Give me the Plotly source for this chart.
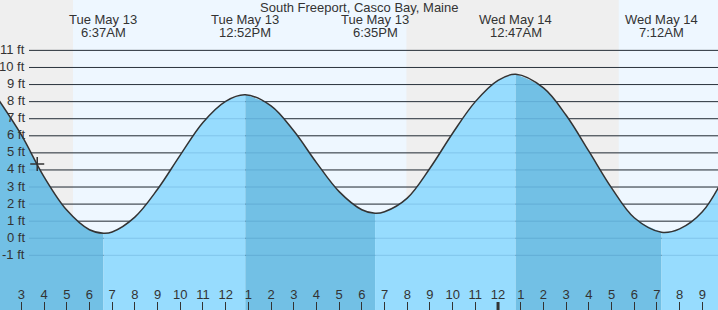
import plotly.graph_objects as go

# ---------------- data ----------------
title = "South Freeport, Casco Bay, Maine"

# hours counted from Tue May 13 00:00
hourly_hours = [2.0, 3.0, 4.0, 5.0, 6.0, 7.0, 8.0, 9.0, 10.0, 11.0, 12.0,
                14.0, 15.0, 16.0, 17.0, 18.0, 19.0, 20.0, 21.0, 22.0, 23.0, 24.0,
                26.0, 27.0, 28.0, 29.0, 30.0, 32.0, 33.0, 34.0]
hourly_heights = [8.1, 6.05, 3.6, 1.65, 0.5, 0.37, 1.24, 2.87, 4.87, 6.78, 8.02,
                  7.75, 6.29, 4.43, 2.73, 1.67, 1.55, 2.35, 4.1, 6.15, 8.0, 9.25,
                  8.8, 7.2, 5.1, 2.95, 1.2, 0.55, 1.55, 3.7]

extreme_hours = [6.617, 12.867, 18.583, 24.783, 31.2]
extreme_heights = [0.3, 8.4, 1.46, 9.6, 0.35]
extreme_dates = ["Tue May 13", "Tue May 13", "Tue May 13", "Wed May 14", "Wed May 14"]
extreme_times = ["6:37AM", "12:52PM", "6:35PM", "12:47AM", "7:12AM"]

sun_hours = [5.276, 19.976, 29.316]          # sunrise, sunset, sunrise

now_hour = [3.70]
now_height = [4.35]

hour_ticks = [2, 3, 4, 5, 6, 7, 8, 9, 10, 11, 12, 13, 14, 15, 16, 17, 18, 19,
              20, 21, 22, 23, 24, 25, 26, 27, 28, 29, 30, 31, 32, 33]
hour_labels = ["2", "3", "4", "5", "6", "7", "8", "9", "10", "11", "12", "1", "2",
               "3", "4", "5", "6", "7", "8", "9", "10", "11", "12", "1", "2", "3",
               "4", "5", "6", "7", "8", "9"]
midnight_hour = 24

foot_levels = [-1, 0, 1, 2, 3, 4, 5, 6, 7, 8, 9, 10, 11]
foot_labels = ["-1 ft", "0 ft", "1 ft", "2 ft", "3 ft", "4 ft", "5 ft", "6 ft",
               "7 ft", "8 ft", "9 ft", "10 ft", "11 ft"]

# ---------------- styling ----------------
W, H = 718, 310
X_RANGE = [2.06, 33.69]
Y_RANGE = [-4.20, 13.95]
FONT = "Liberation Sans, Arial, sans-serif"
TXT = "#333333"
NIGHT = "#efefef"
DAY = "#eef7ff"
RISE_FILL = "#97dcfe"
FALL_FILL = "#72c0e5"
LINE = "#333333"

pts = sorted(list(zip(hourly_hours, hourly_heights)) + list(zip(extreme_hours, extreme_heights)))

fig = go.Figure()

bounds = [pts[0][0]] + extreme_hours + [pts[-1][0]]
for a, b in zip(bounds[:-1], bounds[1:]):
    seg = [p for p in pts if a <= p[0] <= b]
    sx = [p[0] for p in seg]
    sy = [p[1] for p in seg]
    color = FALL_FILL if sy[0] > sy[-1] else RISE_FILL
    fig.add_trace(go.Scatter(x=[sx[0], sx[-1]], y=[-20, -20], mode="lines",
                             line=dict(width=0), hoverinfo="skip", showlegend=False))
    fig.add_trace(go.Scatter(x=sx, y=sy, mode="lines", fill="tonexty", fillcolor=color,
                             line=dict(width=0, shape="spline"), hoverinfo="skip",
                             showlegend=False))

fig.add_trace(go.Scatter(x=[p[0] for p in pts], y=[p[1] for p in pts], mode="lines",
                         line=dict(color=LINE, width=1.5, shape="spline"),
                         hoverinfo="skip", showlegend=False))

fig.add_trace(go.Scatter(x=now_hour, y=now_height, mode="markers",
                         marker=dict(symbol="cross-thin", size=10,
                                     line=dict(color=LINE, width=1.5)),
                         hoverinfo="skip", showlegend=False))

shapes = []
edges = [-10] + sun_hours + [60]
for i, (a, b) in enumerate(zip(edges[:-1], edges[1:])):
    shapes.append(dict(type="rect", xref="x", yref="paper", x0=a, x1=b, y0=0, y1=1,
                       fillcolor=NIGHT if i % 2 == 0 else DAY, line=dict(width=0),
                       layer="below"))
gx0 = 29 / W
for lv in foot_levels:
    shapes.append(dict(type="line", xref="paper", yref="y", x0=gx0, x1=1, y0=lv, y1=lv,
                       line=dict(color="#333333", width=1), layer="below"))
for lv in foot_levels:
    shapes.append(dict(type="line", xref="paper", yref="y", x0=gx0, x1=1, y0=lv, y1=lv,
                       line=dict(color="rgba(0,70,130,0.15)", width=1), layer="above"))
shapes.append(dict(type="line", xref="x", yref="paper", x0=midnight_hour, x1=midnight_hour,
                   y0=0, y1=8 / H, line=dict(color=LINE, width=3), layer="above"))

annotations = []
for lv, lab in zip(foot_levels, foot_labels):
    annotations.append(dict(xref="paper", yref="y", x=26 / W, y=lv, text=lab,
                            xanchor="right", yanchor="middle", showarrow=False,
                            yshift=1, borderpad=0,
                            font=dict(family=FONT, size=13, color=TXT)))
annotations.append(dict(xref="paper", yref="paper", x=0.5, y=1 - 7 / H, text=title,
                        xanchor="center", yanchor="middle", showarrow=False, borderpad=0,
                        font=dict(family=FONT, size=13, color=TXT)))
for t, d, tm in zip(extreme_hours, extreme_dates, extreme_times):
    annotations.append(dict(xref="x", yref="paper", x=t, y=1 - 20 / H, text=d,
                            xanchor="center", yanchor="middle", showarrow=False,
                            borderpad=0, font=dict(family=FONT, size=13, color=TXT)))
    annotations.append(dict(xref="x", yref="paper", x=t, y=1 - 32 / H, text=tm,
                            xanchor="center", yanchor="middle", showarrow=False,
                            borderpad=0, font=dict(family=FONT, size=13, color=TXT)))

fig.update_layout(
    width=W, height=H, margin=dict(l=0, r=0, t=0, b=0),
    paper_bgcolor=NIGHT, plot_bgcolor=NIGHT, showlegend=False, hovermode=False,
    shapes=shapes, annotations=annotations,
    xaxis=dict(range=X_RANGE, tickvals=hour_ticks, ticktext=hour_labels,
               ticks="inside", ticklen=8, tickwidth=1, tickcolor=LINE,
               ticklabelposition="inside", tickfont=dict(family=FONT, size=13, color=TXT),
               showgrid=False, zeroline=False, showline=False, fixedrange=True),
    yaxis=dict(range=Y_RANGE, showgrid=False, zeroline=False, showline=False,
               showticklabels=False, fixedrange=True),
)

fig.write_html("out.html", config={"displayModeBar": False})
